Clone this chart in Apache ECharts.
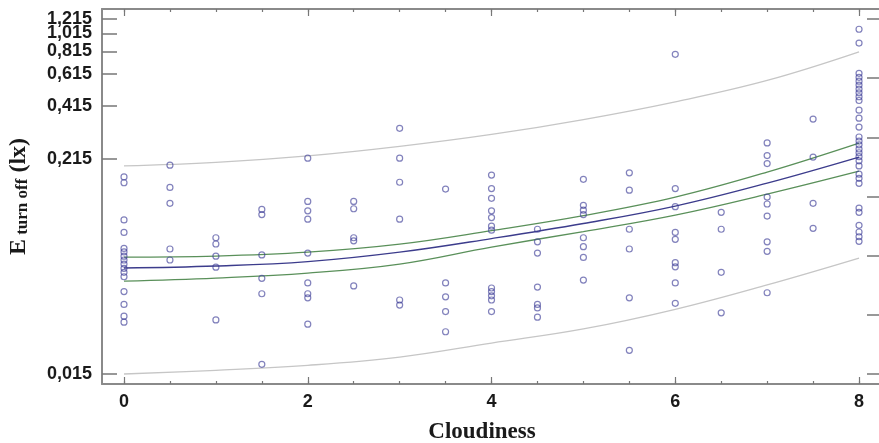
<!DOCTYPE html>
<html><head><meta charset="utf-8">
<script src="https://cdn.jsdelivr.net/npm/echarts@6/dist/echarts.min.js"></script>
<style>html,body{margin:0;padding:0;background:#fff}#c{width:879px;height:443px}</style>
</head><body><div id="c"></div>
<script>
const colX = [0, 0.5, 1, 1.5, 2, 2.5, 3, 3.5, 4, 4.5, 5, 5.5, 6, 6.5, 7, 7.5, 8];
const colE = [
  [0.172, 0.160, 0.101, 0.0865, 0.071, 0.068, 0.0645, 0.0615, 0.0585, 0.0555, 0.0528, 0.050, 0.0416, 0.0355, 0.0307, 0.0285],
  [0.199, 0.151, 0.124, 0.0705, 0.0615],
  [0.081, 0.075, 0.0645, 0.0563, 0.0293],
  [0.115, 0.108, 0.0655, 0.049, 0.0405, 0.0169],
  [0.217, 0.127, 0.113, 0.102, 0.067, 0.0463, 0.0405, 0.0385, 0.0278],
  [0.127, 0.116, 0.081, 0.078, 0.0446],
  [0.314, 0.217, 0.161, 0.102, 0.0375, 0.0352],
  [0.148, 0.0463, 0.039, 0.0325, 0.0253],
  [0.176, 0.149, 0.132, 0.113, 0.104, 0.0935, 0.089, 0.0435, 0.0416, 0.0395, 0.0375, 0.0325],
  [0.090, 0.077, 0.067, 0.044, 0.0355, 0.034, 0.0303],
  [0.167, 0.121, 0.114, 0.108, 0.081, 0.0725, 0.0635, 0.048],
  [0.181, 0.146, 0.090, 0.0705, 0.0385, 0.0201],
  [0.785, 0.149, 0.119, 0.0865, 0.0795, 0.0595, 0.0565, 0.0463, 0.036],
  [0.111, 0.090, 0.0528, 0.032],
  [0.262, 0.224, 0.203, 0.134, 0.123, 0.106, 0.077, 0.0685, 0.041],
  [0.352, 0.22, 0.124, 0.091],
  [1.07, 0.902, 0.62, 0.59, 0.563, 0.536, 0.51, 0.487, 0.464, 0.443, 0.393, 0.356, 0.319, 0.282, 0.268, 0.256, 0.243, 0.232, 0.221, 0.21, 0.197, 0.178, 0.169, 0.159, 0.117, 0.111, 0.0945, 0.087, 0.082, 0.0775]
];

// Fitted curve, confidence band and prediction band, read at each integer cloudiness
const fitX   = [0, 1, 2, 3, 4, 5, 6, 7, 8];
const fitE   = [0.0557, 0.0571, 0.0603, 0.0678, 0.0802, 0.0966, 0.1199, 0.1593, 0.2199];
const confHi = [0.0638, 0.0646, 0.0678, 0.0749, 0.0885, 0.1066, 0.1340, 0.1826, 0.2615];
const confLo = [0.0474, 0.0492, 0.0523, 0.0585, 0.0722, 0.0875, 0.1073, 0.1391, 0.1848];
const predHi = [0.197, 0.206, 0.223, 0.251, 0.291, 0.350, 0.436, 0.568, 0.809];
const predLo = [0.0150, 0.0157, 0.0167, 0.0185, 0.0220, 0.0262, 0.0334, 0.0452, 0.0630];

// Tick labels
const yTicks = [0.015, 0.215, 0.415, 0.615, 0.815, 1.015, 1.215];
const rightTicks = [0.015, 0.0312, 0.0649, 0.135, 0.281, 0.584, 1.215];
const xMajor = [0, 2, 4, 6, 8];
const xMinor = [0, 0.5, 1, 1.5, 2, 2.5, 3, 3.5, 4, 4.5, 5, 5.5, 6, 6.5, 7, 7.5, 8];

const X_MIN = -0.2395, X_MAX = 8.25, Y_MIN = 0.013254, Y_MAX = 1.375;

const points = [];
colX.forEach((x, i) => colE[i].forEach(v => points.push([x, v])));
const pair = arr => fitX.map((x, i) => [x, arr[i]]);

const frame = { show: true, onZero: false, lineStyle: { color: '#8a8a8a', width: 2 } };
const noLine = { show: false, onZero: false };
const noLabel = { show: false };
function xAx(pos, ticks, len, extra) {
  return Object.assign({
    type: 'value', position: pos, min: X_MIN, max: X_MAX,
    axisLine: frame, splitLine: { show: false },
    axisTick: { show: true, inside: true, length: len, customValues: ticks, lineStyle: { color: '#777', width: 1.2 } },
    axisLabel: noLabel
  }, extra || {});
}
// The labels are split over two overlaid left axes so the library never drops the tightly packed ones
const yTicksA = yTicks.filter((v, i) => i % 2 === 0);
const yTicksB = yTicks.filter((v, i) => i % 2 === 1);
function yLeft(ticks, extra) {
  return Object.assign({
    type: 'log', logBase: 10, position: 'left', min: Y_MIN, max: Y_MAX,
    axisLine: noLine, splitLine: { show: false }, minorTick: { show: false },
    axisTick: { show: true, inside: true, length: 15, customValues: ticks, lineStyle: { color: '#777', width: 1.5 } },
    axisLabel: { show: true, customValues: ticks, margin: 10, color: '#1a1a1a', fontSize: 18, fontWeight: 'bold', fontFamily: 'Liberation Sans',
      hideOverlap: false, showMinLabel: true, showMaxLabel: true, formatter: v => Number(v).toFixed(3).replace('.', ',') }
  }, extra || {});
}

const chart = echarts.init(document.getElementById('c'), null, { renderer: 'canvas' });
chart.setOption({
  animation: false,
  backgroundColor: '#fff',
  grid: { left: 102, top: 9, right: -3, bottom: 59, outerBoundsMode: 'none', containLabel: false },
  xAxis: [
    xAx('bottom', xMajor, 7, {
      axisLabel: { show: true, customValues: xMajor, margin: 9, color: '#1a1a1a', fontSize: 18, fontWeight: 'bold', fontFamily: 'Liberation Sans', hideOverlap: false },
      name: 'Cloudiness', nameLocation: 'middle', nameGap: 37, nameMoveOverlap: false,
      nameTextStyle: { fontFamily: 'Liberation Serif', fontWeight: 'bold', fontSize: 23, color: '#1a1a1a', padding: [0, 20, 0, 0] }
    }),
    xAx('bottom', xMinor, 3, { axisLine: noLine }),
    xAx('top', xMajor, 7),
    xAx('top', xMinor, 3, { axisLine: noLine })
  ],
  yAxis: [
    yLeft(yTicksA, {
      axisLine: frame,
      name: '{a|E}{b| turn off}{a| (lx)}', nameLocation: 'middle', nameGap: 70, nameMoveOverlap: false,
      nameTextStyle: {
        color: '#1a1a1a', fontFamily: 'Liberation Serif', fontWeight: 'bold',
        rich: {
          a: { fontSize: 24, fontFamily: 'Liberation Serif', fontWeight: 'bold', color: '#1a1a1a', lineHeight: 26 },
          b: { fontSize: 17, fontFamily: 'Liberation Serif', fontWeight: 'bold', color: '#1a1a1a', lineHeight: 26, padding: [8, 0, 0, 0] }
        }
      }
    }),
    yLeft(yTicksB),
    {
      type: 'log', logBase: 10, position: 'right', min: Y_MIN, max: Y_MAX,
      axisLine: frame, splitLine: { show: false }, minorTick: { show: false },
      axisTick: { show: true, inside: true, length: 15, customValues: rightTicks, lineStyle: { color: '#777', width: 1.5 } },
      axisLabel: noLabel
    }
  ],
  series: [
    { type: 'line', data: pair(predHi), smooth: 0.4, symbol: 'none', lineStyle: { color: '#c6c6c6', width: 1.3 }, z: 2 },
    { type: 'line', data: pair(predLo), smooth: 0.4, symbol: 'none', lineStyle: { color: '#c6c6c6', width: 1.3 }, z: 2 },
    { type: 'line', data: pair(confHi), smooth: 0.4, symbol: 'none', lineStyle: { color: '#5a905a', width: 1.3 }, z: 3 },
    { type: 'line', data: pair(confLo), smooth: 0.4, symbol: 'none', lineStyle: { color: '#5a905a', width: 1.3 }, z: 3 },
    { type: 'line', data: pair(fitE), smooth: 0.4, symbol: 'none', lineStyle: { color: '#3c3c8c', width: 1.4 }, z: 3 },
    { type: 'scatter', data: points, symbol: 'circle', symbolSize: 6,
      itemStyle: { color: 'rgba(255,255,255,0)', borderColor: 'rgba(60,60,150,0.8)', borderWidth: 1.2 }, z: 4 }
  ]
});
</script>
</body></html>
